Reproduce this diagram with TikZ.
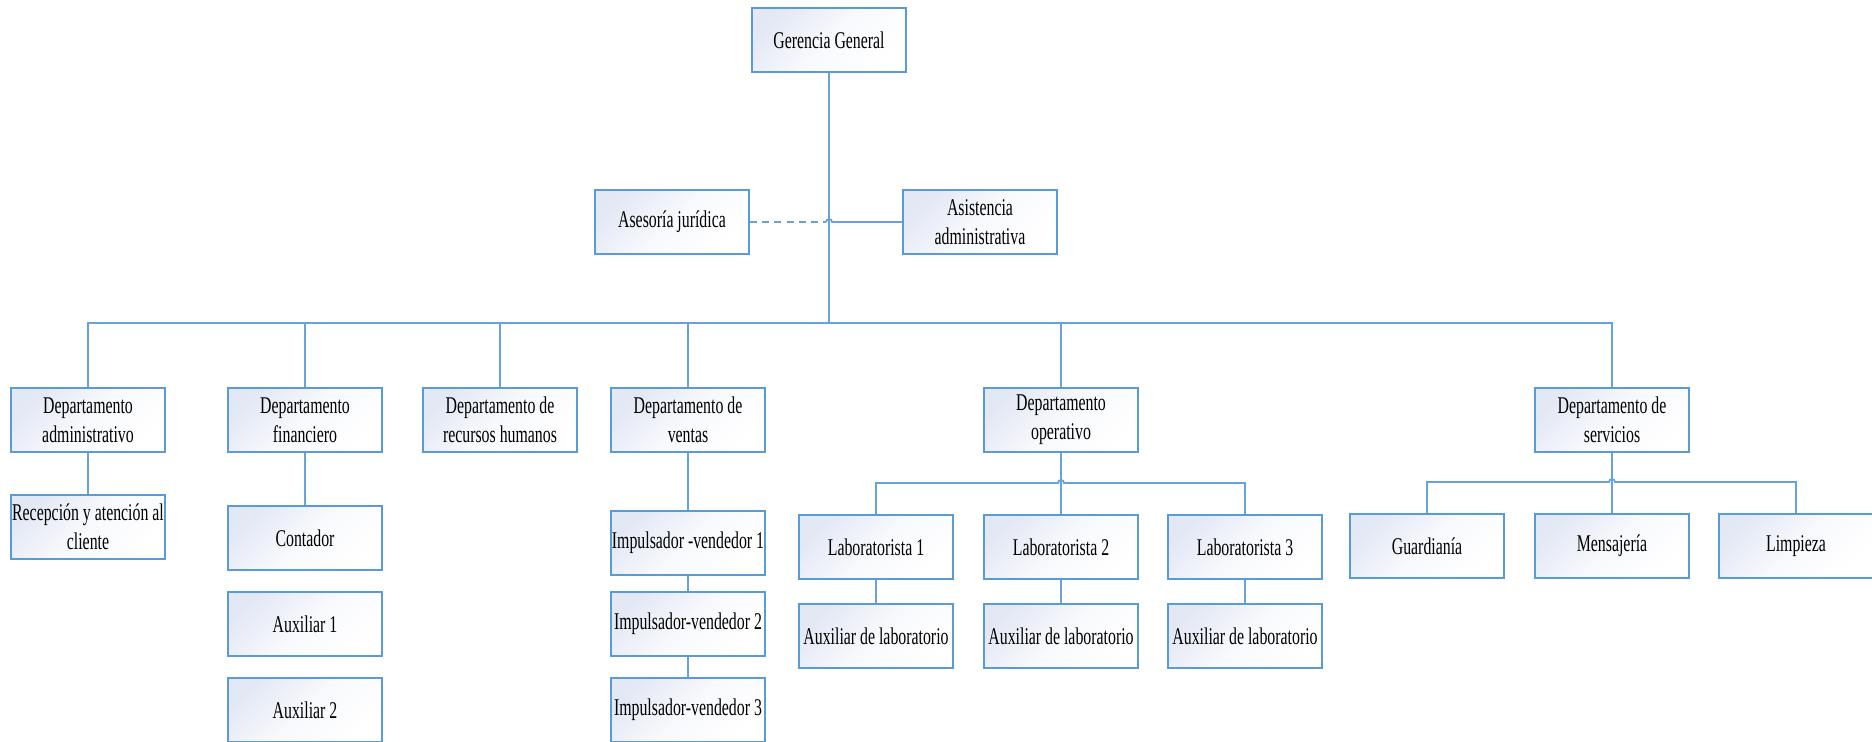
\documentclass[tikz,border=0pt]{standalone}
\usepackage{fontspec}
\setmainfont[FakeStretch=0.66]{Liberation Serif}
\definecolor{boxline}{RGB}{91,155,213}
\definecolor{linkline}{RGB}{104,162,218}
\definecolor{boxtint}{RGB}{227,232,245}
\tikzset{
  orgbox/.style={draw=boxline, line width=0.9pt, rectangle,
    minimum width=77pt, minimum height=32pt, inner sep=0pt, align=center,
    top color=boxtint, bottom color=white, middle color=white!75!boxtint,
    shading angle=45,
    font=\fontsize{12}{14.5}\selectfont},
  link/.style={draw=linkline, line width=0.9pt},
  dashlink/.style={link, dash pattern=on 3.5pt off 2.6pt}
}
\begin{document}
\begin{tikzpicture}[x=0.5pt, y=-0.5pt]
\useasboundingbox (0,0) rectangle (1872,741);
\clip (0,0) rectangle (1872,741);

% top management and staff units
\node[orgbox] (ger) at (829,40)  {Gerencia General};
\node[orgbox] (ase) at (672,222) {Asesoría jurídica};
\node[orgbox] (asi) at (980,222) {Asistencia\\administrativa};

% departments
\node[orgbox] (adm)  at (88,420)   {Departamento\\administrativo};
\node[orgbox] (fin)  at (305,420)  {Departamento\\financiero};
\node[orgbox] (rrhh) at (500,420)  {Departamento de\\recursos humanos};
\node[orgbox] (ven)  at (688,420)  {Departamento de\\ventas};
\node[orgbox] (ope)  at (1061,420) {Departamento\\operativo};
\node[orgbox] (ser)  at (1612,420) {Departamento de\\servicios};

% administrative and financial staff
\node[orgbox] (rec)  at (88,527)  {Recepción y atención al\\cliente};
\node[orgbox] (con)  at (305,538) {Contador};
\node[orgbox] (aux1) at (305,624) {Auxiliar 1};
\node[orgbox] (aux2) at (305,710) {Auxiliar 2};

% sales staff
\node[orgbox] (imp1) at (688,543) {Impulsador -vendedor 1};
\node[orgbox] (imp2) at (688,624) {Impulsador-vendedor 2};
\node[orgbox] (imp3) at (688,710) {Impulsador-vendedor 3};

% operations staff
\node[orgbox] (lab1) at (876,547)  {Laboratorista 1};
\node[orgbox] (lab2) at (1061,547) {Laboratorista 2};
\node[orgbox] (lab3) at (1245,547) {Laboratorista 3};
\node[orgbox] (al1)  at (876,636)  {Auxiliar de laboratorio};
\node[orgbox] (al2)  at (1061,636) {Auxiliar de laboratorio};
\node[orgbox] (al3)  at (1245,636) {Auxiliar de laboratorio};

% services staff
\node[orgbox] (gua) at (1427,546) {Guardianía};
\node[orgbox] (men) at (1612,546) {Mensajería};
\node[orgbox] (lim) at (1796,546) {Limpieza};

% main trunk and department bus
\coordinate (bus) at (829,323);
\draw[link] (ger.south) -- (bus);
\draw[link] (adm.north) |- (bus);
\draw[link] (ser.north) |- (bus);
\foreach \d in {fin,rrhh,ven,ope}
  \draw[link] (\d.north) -- (\d.north |- bus);

% staff units: dashed advisory line hopping over the trunk
\draw[dashlink] (ase.east) -- (826,222);
\draw[link] (826,222) arc[start angle=180, end angle=0, radius=1.5pt]
  -- (asi.west);

% chains below departments
\draw[link] (adm.south) -- (rec.north);
\draw[link] (fin.south) -- (con.north);
\draw[link] (ven.south) -- (imp1.north);
\draw[link] (imp1.south) -- (imp2.north);
\draw[link] (imp2.south) -- (imp3.north);

% operations branch
\draw[link] (ope.south) -- (lab2.north);
\draw[link] (lab1.north) -- (876,483) -- (1058,483)
  arc[start angle=180, end angle=0, radius=1.5pt]
  -- (1245,483) -- (lab3.north);
\draw[link] (lab1.south) -- (al1.north);
\draw[link] (lab2.south) -- (al2.north);
\draw[link] (lab3.south) -- (al3.north);

% services branch
\draw[link] (ser.south) -- (men.north);
\draw[link] (gua.north) -- (1427,482) -- (1609,482)
  arc[start angle=180, end angle=0, radius=1.5pt]
  -- (1796,482) -- (lim.north);
\end{tikzpicture}
\end{document}
